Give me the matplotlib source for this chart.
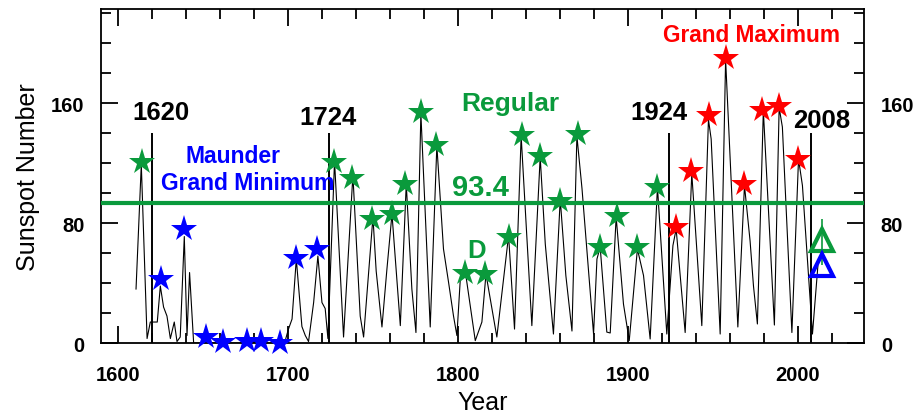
import matplotlib
matplotlib.use("Agg")
import matplotlib.pyplot as plt
from matplotlib.ticker import MultipleLocator

plt.rcParams['font.family'] = ['Liberation Sans', 'DejaVu Sans']

# sunspot curve, vertices (year, value)
curve_years = [1610.6, 1613.7, 1617.1, 1619.0, 1623.1, 1624.9, 1626.8, 1628.8, 1630.8,
               1633.1, 1634.7, 1636.6, 1639.0, 1640.6, 1642.1, 1644.5, 1660.0, 1680.0,
               1698.0, 1700.2, 1702.4, 1704.9, 1708.2, 1710.2, 1712.1, 1715.1, 1717.6,
               1720.0, 1721.9, 1723.5, 1727.4, 1732.7, 1738.2, 1742.5, 1744.5, 1750.0,
               1751.9, 1755.3, 1758.2, 1761.2, 1766.1, 1769.6, 1772.9, 1775.3, 1778.2,
               1783.7, 1787.6, 1791.5, 1794.5, 1797.4, 1799.4, 1801.4, 1804.3, 1810.2,
               1814.1, 1816.5, 1822.9, 1829.8, 1833.3, 1837.2, 1843.5, 1848.4, 1851.4,
               1856.2, 1860.2, 1863.5, 1867.1, 1870.0, 1873.0, 1879.8, 1881.8, 1883.7,
               1887.6, 1889.6, 1893.1, 1897.4, 1900.8, 1905.6, 1909.2, 1913.1, 1917.4,
               1922.9, 1926.5, 1928.4, 1933.7, 1937.6, 1943.5, 1947.4, 1949.0, 1954.3,
               1957.5, 1964.7, 1968.6, 1971.9, 1973.9, 1976.2, 1979.7, 1986.2, 1989.0,
               1990.9, 1996.5, 2000.4, 2002.7, 2008.6, 2011.8]
curve_vals = [36, 119, 3, 14, 14, 38, 24, 18, 3,
              14, 1, 4, 71, 5, 47, 0, 0, 0,
              0, 9, 16, 56, 11, 5, 1, 27, 58,
              27, 23, 3, 121.5, 4, 112, 18, 4, 84,
              48, 10.7, 49, 86, 11.6, 106, 36, 7, 153,
              10.7, 131.6, 62.7, 40.4, 18, 5, 42.7, 48, 1.6,
              14, 46, 4, 71.6, 9.3, 138, 11.6, 124, 66,
              6, 96, 45, 8, 138, 103, 6, 56, 64,
              7.3, 6.7, 84, 26, 1.6, 62.7, 45, 2.7, 104,
              6, 65, 76, 7, 113, 11.6, 149, 136, 6,
              189, 10.7, 105, 68, 38, 12.7, 155, 12, 157,
              144, 7, 122.7, 105, 6, 51.5]

# cycle maxima markers
green_years = [1614.3, 1726.9, 1737.8, 1749.6, 1761.4, 1769.0, 1778.4, 1787.2, 1804.0,
               1816.1, 1830.2, 1837.6, 1848.4, 1860.2, 1870.6, 1883.4, 1893.7, 1905.5,
               1917.2]
green_vals = [120.7, 121, 110, 83, 86, 106, 154, 132, 47,
              46, 71, 139, 124.5, 95, 139.5, 64, 85, 64,
              104]
blue_years = [1625.3, 1639.0, 1651.9, 1661.9, 1676.1, 1684.3, 1695.2, 1704.9, 1717.2]
blue_vals = [42.7, 76, 4, 0.5, 1.5, 1.5, 0, 57, 62.7]
red_years = [1928.4, 1937.2, 1947.5, 1957.6, 1968.4, 1979.0, 1989.0, 2000.2]
red_vals = [77.5, 115, 152, 190, 106, 155.5, 158, 123]

# predictions for the next cycle
pred_year = 2014.3
pred_green = 68.5
pred_blue = 52
pred_green_range = (52, 83)

mean_level = 93.4
marked_years = [1620, 1724, 1924, 2008]
marked_top = 140

GREEN = '#0a9a3c'
BLUE = '#0000ff'
RED = '#ff0000'

fig = plt.figure(figsize=(9.15, 4.14), dpi=100)
ax = fig.add_axes([0.1104, 0.169, 0.834, 0.808])

ax.plot(curve_years, curve_vals, color='black', lw=0.8, zorder=2)
ax.vlines(marked_years, 0, marked_top, color='black', lw=1.4, zorder=2)
ax.axhline(mean_level, color=GREEN, lw=3, zorder=3)

star = dict(marker='*', ls='none', markersize=20, markeredgewidth=0, zorder=4, clip_on=False)
ax.plot(green_years, green_vals, color=GREEN, **star)
ax.plot(blue_years, blue_vals, color=BLUE, **star)
ax.plot(red_years, red_vals, color=RED, **star)

ax.vlines(pred_year, pred_green_range[0], pred_green_range[1], color=GREEN, lw=1.2, zorder=3)
ax.plot(pred_year, pred_green, marker='^', markersize=16, markerfacecolor='none',
        markeredgecolor=GREEN, markeredgewidth=3, zorder=5)
ax.plot(pred_year, pred_blue, marker='^', markersize=16, markerfacecolor='none',
        markeredgecolor=BLUE, markeredgewidth=3, zorder=5)

bold = dict(fontweight='bold', ha='center', va='center')
for yr, xx, yy in zip(marked_years, [1625.5, 1723.7, 1918.4, 2014.3], [154, 151, 154, 149]):
    ax.text(xx, yy, str(yr), fontsize=18.5, color='black', **bold)
ax.text(1667.8, 125, 'Maunder', fontsize=16.5, color=BLUE, **bold)
ax.text(1676.1, 107, 'Grand Minimum', fontsize=16.5, color=BLUE, **bold)
ax.text(1813.1, 104, '93.4', fontsize=21, color=GREEN, **bold)
ax.text(1830.8, 160, 'Regular', fontsize=19, color=GREEN, **bold)
ax.text(1810.8, 62, 'D', fontsize=18.5, color=GREEN, **bold)
ax.text(1972.5, 206, 'Grand Maximum', fontsize=16.3, color=RED, **bold)

ax.set_xlim(1590, 2039)
ax.set_ylim(0, 223)
ax.xaxis.set_major_locator(MultipleLocator(100))
ax.xaxis.set_minor_locator(MultipleLocator(20))
ax.yaxis.set_major_locator(MultipleLocator(80))
ax.yaxis.set_minor_locator(MultipleLocator(20))
ax.tick_params(which='both', direction='in', top=True, right=True, labelright=True, width=1.3)
ax.tick_params(which='major', length=12, labelsize=14.5, pad=12)
ax.tick_params(which='minor', length=7)
ax.tick_params(axis='x', which='major', pad=16)
for lab in ax.get_xticklabels() + ax.get_yticklabels():
    lab.set_fontweight('bold')
for sp in ax.spines.values():
    sp.set_linewidth(1.3)

ax.set_xlabel('Year', fontsize=18, labelpad=4)
ax.set_ylabel('Sunspot Number', fontsize=18, labelpad=8)

fig.savefig('out.png', dpi=100)
